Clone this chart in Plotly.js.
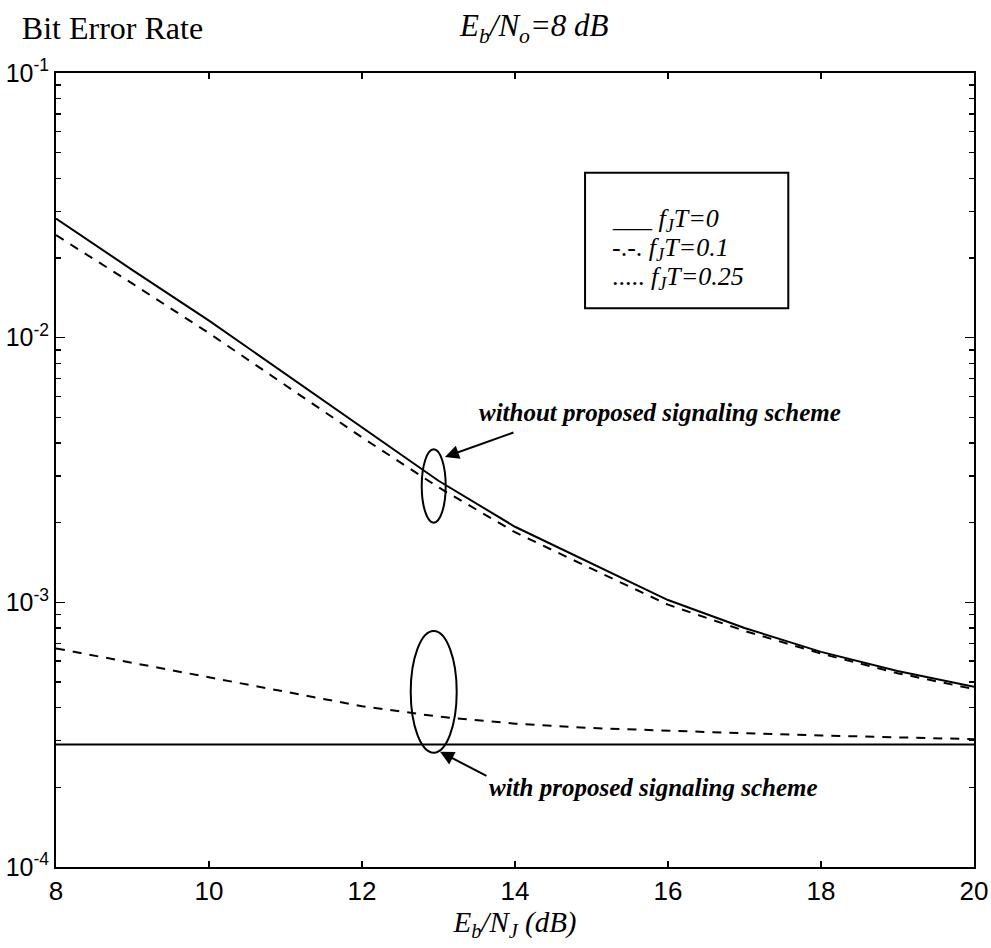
<!DOCTYPE html>
<html>
<head>
<meta charset="utf-8">
<script src="https://cdn.plot.ly/plotly-3.0.1.min.js"></script>
<style>html,body{margin:0;padding:0;background:#fff;}#chart{width:991px;height:948px;}</style>
</head>
<body>
<div id="chart"></div>
<script>
// ---- data ----
var ebnj = [8, 9, 10, 11, 12, 13, 14, 15, 16, 17, 18, 19, 20];
var berWithoutFjt0 = [0.0282, 0.0180, 0.0116, 0.0073, 0.0046, 0.00288, 0.00193, 0.00140, 0.00102, 0.00080, 0.00065, 0.00055, 0.00048];
var berWithoutFjt01 = [0.0244, 0.0160, 0.0104, 0.0066, 0.0042, 0.00272, 0.00184, 0.00134, 0.00098, 0.00078, 0.00064, 0.00054, 0.00047];
var berWithFjt01 = [0.00067, 0.00059, 0.00052, 0.00046, 0.000405, 0.00037, 0.000348, 0.000335, 0.000327, 0.00032, 0.000314, 0.000308, 0.000304];
var berWithFjt0 = [0.00029, 0.00029, 0.00029, 0.00029, 0.00029, 0.00029, 0.00029, 0.00029, 0.00029, 0.00029, 0.00029, 0.00029, 0.00029];
var xTickVals = [8, 10, 12, 14, 16, 18, 20];
var yTickVals = [1e-4, 1e-3, 1e-2, 1e-1];
var yTickText = ['10<sup>-4</sup>', '10<sup>-3</sup>', '10<sup>-2</sup>', '10<sup>-1</sup>'];
var legendLabels = ['___ <i>f<sub>J</sub>T=0</i>', '-.-. <i>f<sub>J</sub>T=0.1</i>', '..... <i>f<sub>J</sub>T=0.25</i>'];

var minorVals = [];
for (var d = -4; d < -1; d++) { for (var m = 2; m <= 9; m++) { minorVals.push(m * Math.pow(10, d)); } }

var serif = 'Liberation Serif, Times New Roman, serif';
var sans = 'Liberation Sans Narrow, Arial Narrow, Liberation Sans, Arial, sans-serif';

var solid = {color: '#000', width: 2, dash: 'solid'};
var dashed = {color: '#000', width: 2, dash: '9px,8px'};

var traces = [
  {x: ebnj, y: berWithoutFjt0, mode: 'lines', line: solid, name: 'fJT=0 without'},
  {x: ebnj, y: berWithoutFjt01, mode: 'lines', line: dashed, name: 'fJT=0.1 without'},
  {x: ebnj, y: berWithFjt01, mode: 'lines', line: dashed, name: 'fJT=0.1 with'},
  {x: ebnj, y: berWithFjt0, mode: 'lines', line: solid, name: 'fJT=0 with'}
];

var annotations = [
  {text: '<i>E<sub>b</sub>/N<sub>o</sub>=8 dB</i>', xref: 'paper', yref: 'paper', x: 0.4365, y: 1.0567,
   xanchor: 'left', yanchor: 'middle', showarrow: false, font: {family: serif, size: 31, color: '#000'}},
  {text: '<b><i>without proposed signaling scheme</i></b>', xref: 'paper', yref: 'paper', x: 0.4583, y: 0.5718,
   xanchor: 'left', yanchor: 'middle', showarrow: false, font: {family: serif, size: 25, color: '#000'}},
  {text: '<b><i>with proposed signaling scheme</i></b>', xref: 'paper', yref: 'paper', x: 0.4691, y: 0.0999,
   xanchor: 'left', yanchor: 'middle', showarrow: false, font: {family: serif, size: 25, color: '#000'}},
  {text: '', xref: 'paper', yref: 'paper', x: 0.4237, y: 0.5164, ax: 70, ay: -25, showarrow: true,
   arrowhead: 2, arrowsize: 1.4, arrowwidth: 2, arrowcolor: '#000', standoff: 0},
  {text: '', xref: 'paper', yref: 'paper', x: 0.4183, y: 0.1452, ax: 48, ay: 25, showarrow: true,
   arrowhead: 2, arrowsize: 1.4, arrowwidth: 2, arrowcolor: '#000', standoff: 0}
];
var legendY = [0.8149, 0.7783, 0.7418];
for (var i = 0; i < legendLabels.length; i++) {
  annotations.push({text: legendLabels[i], xref: 'paper', yref: 'paper', x: 0.6035, y: legendY[i],
    xanchor: 'left', yanchor: 'middle', showarrow: false, font: {family: serif, size: 26, color: '#000'}});
}

var shapes = [
  {type: 'rect', xref: 'paper', yref: 'paper', x0: 0.5763, x1: 0.7977, y0: 0.7036, y1: 0.8744,
   line: {color: '#000', width: 2}, fillcolor: 'rgba(0,0,0,0)'},
  {type: 'circle', xref: 'paper', yref: 'paper', x0: 0.3984, x1: 0.4245, y0: 0.4337, y1: 0.5261,
   line: {color: '#000', width: 2}},
  {type: 'circle', xref: 'paper', yref: 'paper', x0: 0.3864, x1: 0.4365, y0: 0.1440, y1: 0.2972,
   line: {color: '#000', width: 2}}
];

var layout = {
  width: 991, height: 948,
  margin: {l: 56, r: 17, t: 73, b: 81},
  paper_bgcolor: '#fff', plot_bgcolor: '#fff',
  showlegend: false,
  title: {text: 'Bit Error Rate', xref: 'container', yref: 'container', x: 0.022, xanchor: 'left',
          y: 1 - 28 / 948, yanchor: 'middle', font: {family: serif, size: 32, color: '#000'}},
  xaxis: {
    range: [8, 20], tickmode: 'array', tickvals: xTickVals,
    ticks: 'inside', ticklen: 6, tickwidth: 1.5, tickcolor: '#000',
    showline: true, linecolor: '#000', linewidth: 2, mirror: 'ticks',
    showgrid: false, zeroline: false,
    tickfont: {family: sans, size: 26, color: '#000'},
    title: {text: '<i>E<sub>b</sub>/N<sub>J</sub> (dB)</i>', font: {family: serif, size: 29, color: '#000'}, standoff: 4}
  },
  yaxis: {
    type: 'log', range: [-4, -1], tickmode: 'array', tickvals: yTickVals, ticktext: yTickText,
    ticks: 'inside', ticklen: 9, tickwidth: 1.5, tickcolor: '#000',
    showline: true, linecolor: '#000', linewidth: 2, mirror: 'ticks',
    showgrid: false, zeroline: false,
    minor: {tickmode: 'array', tickvals: minorVals, ticks: 'inside', ticklen: 5, tickwidth: 1.5, tickcolor: '#000', showgrid: false},
    tickfont: {family: sans, size: 25, color: '#000'}
  },
  annotations: annotations,
  shapes: shapes
};

Plotly.newPlot('chart', traces, layout, {displayModeBar: false, staticPlot: true});
</script>
</body>
</html>
